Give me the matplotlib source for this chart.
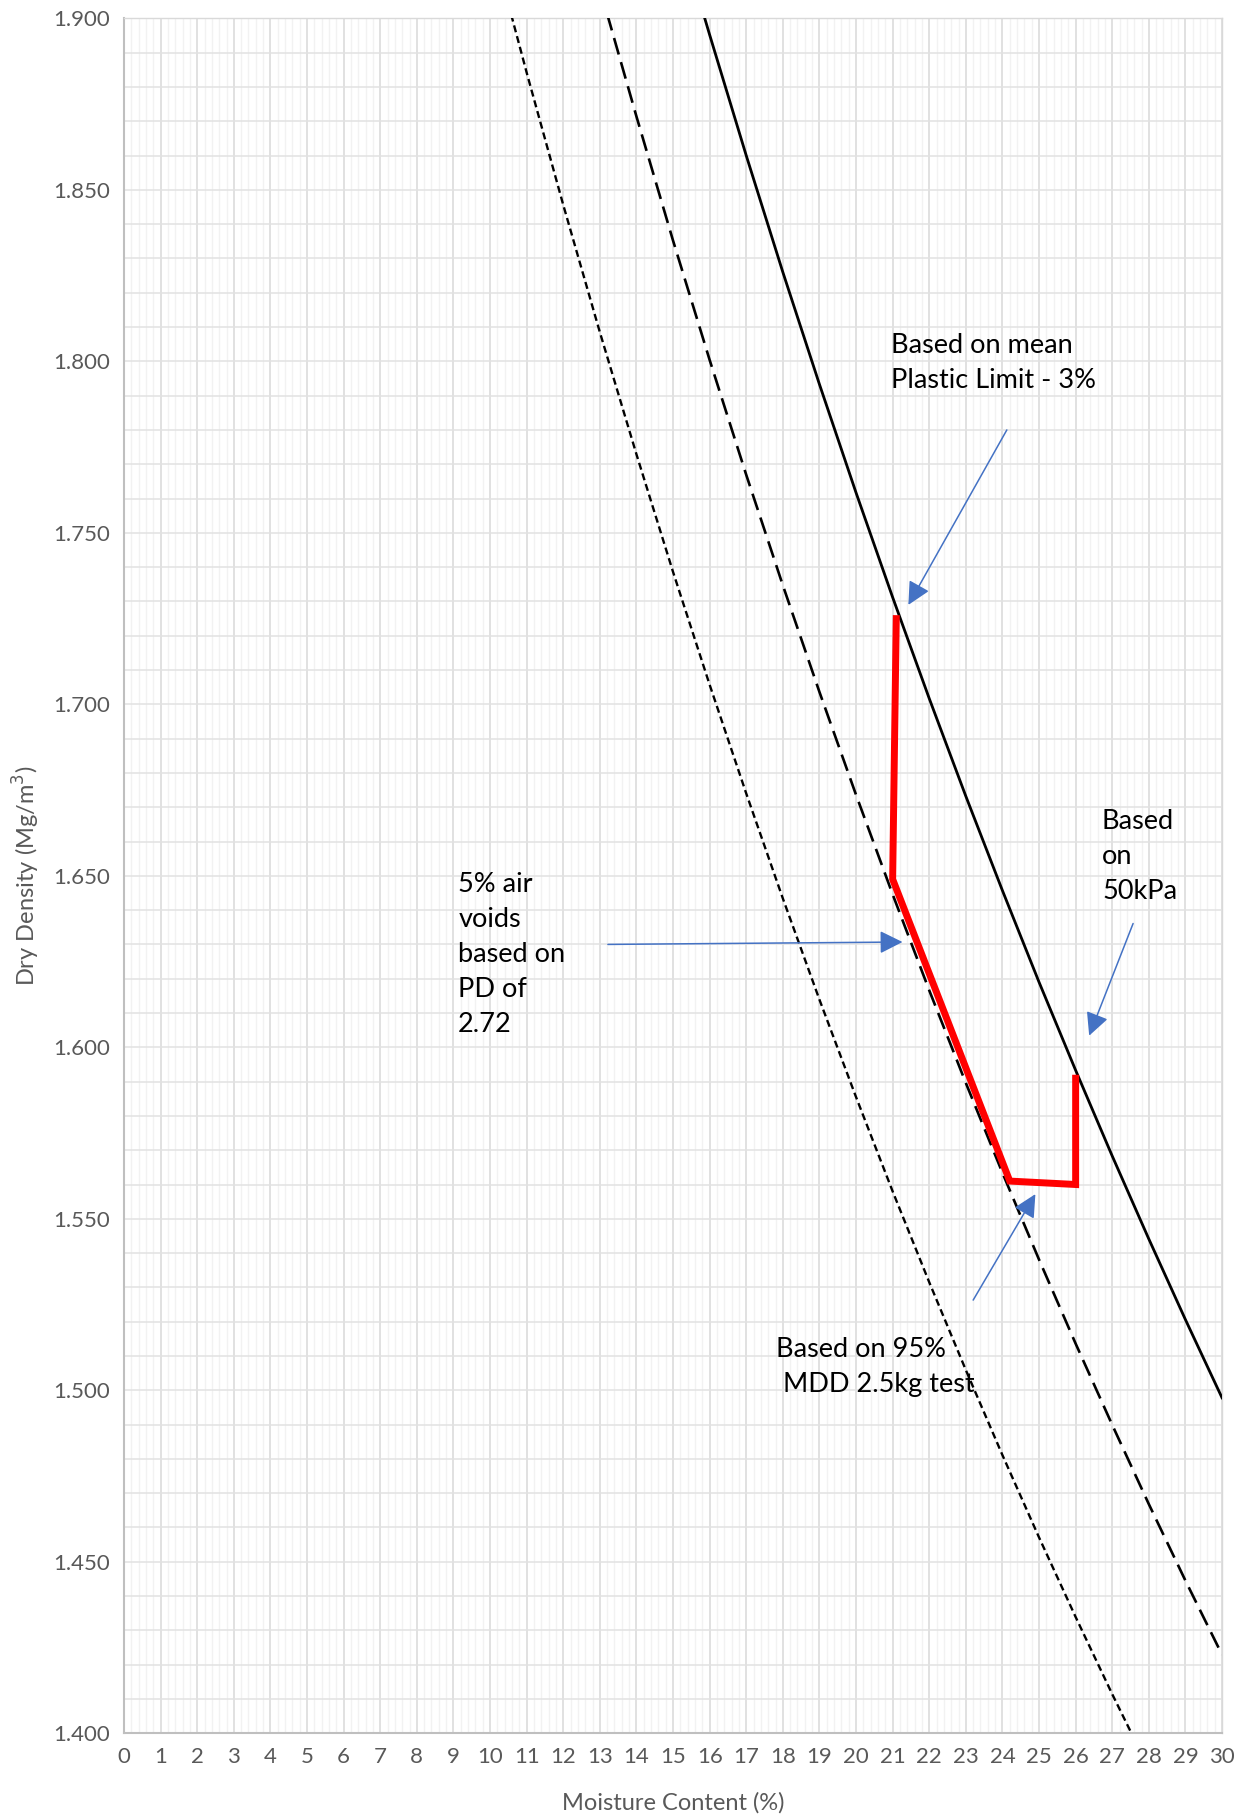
import matplotlib.pyplot as plt
import numpy as np

plt.rcParams['font.family'] = ['Lato', 'DejaVu Sans']

# zero air voids line (solid)
mc_zav = [15.8, 16, 17, 18, 19, 20, 21, 22, 23, 24, 25, 26, 27, 28, 29, 30]
dd_zav = [1.9024, 1.8952, 1.8600, 1.8260, 1.7933, 1.7617, 1.7312, 1.7017,
          1.6732, 1.6457, 1.6190, 1.5933, 1.5683, 1.5441, 1.5206, 1.4978]

# 5% air voids (long dash)
mc_5av = [13.2, 14, 15, 16, 17, 18, 19, 20, 21, 22, 23, 24, 25, 26, 27, 28, 29, 30]
dd_5av = [1.9013, 1.8714, 1.8352, 1.8004, 1.7669, 1.7347, 1.7036, 1.6736, 1.6446,
          1.6166, 1.5896, 1.5634, 1.5381, 1.5136, 1.4899, 1.4668, 1.4445, 1.4229]

# 10% air voids (short dash)
mc_10av = [10.5, 11, 12, 13, 14, 15, 16, 17, 18, 19, 20, 21, 22, 23, 24, 25, 26, 27, 28]
dd_10av = [1.9042, 1.8842, 1.8456, 1.8085, 1.7729, 1.7386, 1.7057, 1.6740, 1.6434, 1.6139,
           1.5855, 1.5580, 1.5315, 1.5059, 1.4811, 1.4571, 1.4339, 1.4114, 1.3897]

# acceptability envelope (red)
mc_env = [21.1, 21.0, 24.2, 26.0, 26.0]
dd_env = [1.726, 1.649, 1.561, 1.560, 1.592]

fig = plt.figure(figsize=(12.48, 18.18), dpi=100)
ax = fig.add_axes([0.0994, 0.0466, 0.8798, 0.9433])

ax.plot(mc_zav, dd_zav, color='black', lw=2.0, zorder=3)
ax.plot(mc_5av, dd_5av, color='black', lw=1.9, dashes=(6.5, 3.0), zorder=3)
ax.plot(mc_10av, dd_10av, color='black', lw=1.7, dashes=(3.0, 1.7), zorder=3)
ax.plot(mc_env, dd_env, color='#FF0000', lw=5, solid_joinstyle='miter',
        solid_capstyle='butt', zorder=4)

ax.set_xlim(0, 30)
ax.set_ylim(1.4, 1.9)
ax.set_xticks(np.arange(0, 31, 1))
ax.set_xticks(np.arange(0, 30.01, 0.2), minor=True)
ax.set_yticks(np.arange(1.4, 1.901, 0.05))
ax.set_yticks(np.arange(1.4, 1.901, 0.01), minor=True)
ax.set_yticklabels([f'{v:.3f}' for v in np.arange(1.4, 1.901, 0.05)])

ax.grid(which='minor', axis='x', color='#F2F2F2', lw=1.0)
ax.grid(which='major', axis='x', color='#D9D9D9', lw=1.1)
ax.grid(which='both', axis='y', color='#E2E2E2', lw=1.1)
ax.set_axisbelow(True)

for s in ax.spines.values():
    s.set_color('#D9D9D9')
    s.set_linewidth(1.0)
ax.spines['left'].set_color('#BFBFBF')
ax.spines['bottom'].set_color('#BFBFBF')
ax.spines['left'].set_linewidth(1.5)
ax.spines['bottom'].set_linewidth(1.5)

ax.tick_params(which='both', length=0, labelsize=16, colors='#595959', pad=10)
ax.set_xlabel('Moisture Content (%)', fontsize=17, color='#595959', labelpad=18)
ax.set_ylabel('Dry Density (Mg/m$^3$)', fontsize=17, color='#595959', labelpad=8)

txt = dict(fontsize=19.5, color='black', ha='left', va='center', linespacing=1.5)
ax.text(20.96, 1.7995, 'Based on mean\nPlastic Limit - 3%', **txt)
ax.text(26.72, 1.6555, 'Based\non\n50kPa', **txt)
ax.text(9.13, 1.627, '5% air\nvoids\nbased on\nPD of\n2.72', **txt)
ax.text(17.81, 1.5068, 'Based on 95%\n MDD 2.5kg test', **txt)

arr = dict(arrowstyle='-|>,head_length=0.7,head_width=0.35', color='#4472C4',
           lw=1.1, mutation_scale=20, shrinkA=0, shrinkB=0)
ax.annotate('', xy=(21.43, 1.729), xytext=(24.12, 1.780), arrowprops=arr)
ax.annotate('', xy=(21.27, 1.6307), xytext=(13.22, 1.630), arrowprops=arr)
ax.annotate('', xy=(26.37, 1.6034), xytext=(27.57, 1.6361), arrowprops=arr)
ax.annotate('', xy=(24.9, 1.5572), xytext=(23.2, 1.5263), arrowprops=arr)

fig.savefig('out.png', dpi=100)
